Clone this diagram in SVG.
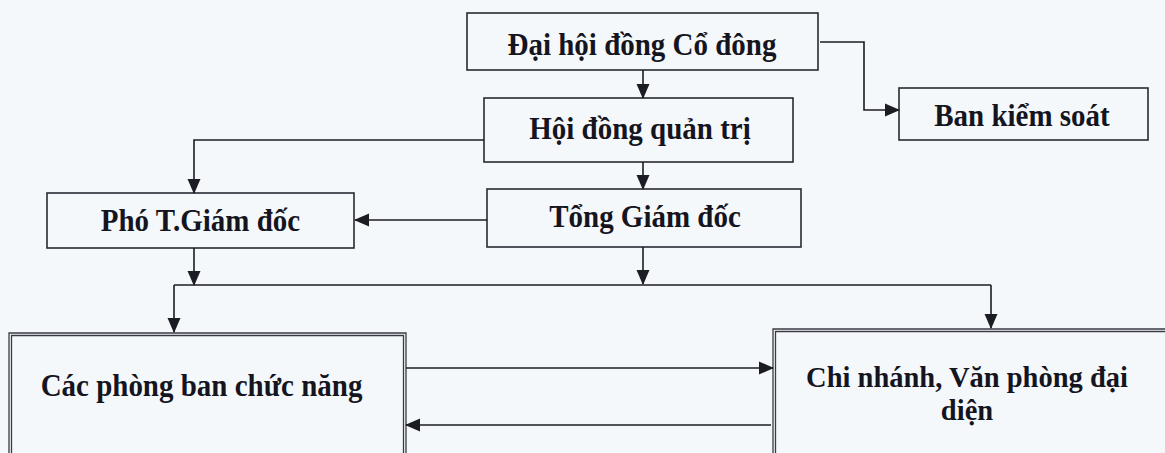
<svg xmlns="http://www.w3.org/2000/svg" width="1165" height="453" viewBox="0 0 1165 453">
  <defs>
    <marker id="arr" markerUnits="userSpaceOnUse" markerWidth="15" markerHeight="15" viewBox="0 0 15 15" refX="14" refY="7.5" orient="auto">
      <path d="M0,1 L15,7.5 L0,14 Z" fill="#1c1c24"/>
    </marker>
    <style>
      .box { fill: none; stroke: #2a2a32; stroke-width: 1.6; }
      .dbl { fill: none; stroke: #3a3a44; stroke-width: 1.3; }
      .lbl { font-family: "Liberation Serif", "Times New Roman", serif; font-weight: bold; font-size: 29px; fill: #15151f; text-anchor: middle; }
      .con { fill: none; stroke: #1c1c24; stroke-width: 1.6; }
    </style>
  </defs>
  <rect x="0" y="0" width="1165" height="453" fill="#f5f8fa"/>

  <g id="dhdcd">
    <rect class="box" x="467" y="13" width="351" height="57"/>
    <text class="lbl" transform="translate(642,55) scale(1,1.12)">Đại hội đồng Cổ đông</text>
  </g>
  <g id="bks">
    <rect class="box" x="899" y="88" width="249" height="52"/>
    <text class="lbl" transform="translate(1022,126) scale(1,1.12)">Ban kiểm soát</text>
  </g>
  <g id="hdqt">
    <rect class="box" x="484" y="98" width="309" height="64"/>
    <text class="lbl" transform="translate(640,139) scale(1,1.12)">Hội đồng quản trị</text>
  </g>
  <g id="ptgd">
    <rect class="box" x="47" y="193" width="307" height="55"/>
    <text class="lbl" transform="translate(200.5,231) scale(1,1.12)">Phó T.Giám đốc</text>
  </g>
  <g id="tgd">
    <rect class="box" x="487" y="189" width="314" height="58"/>
    <text class="lbl" transform="translate(645,227) scale(1,1.12)">Tổng Giám đốc</text>
  </g>
  <g id="cpb">
    <path class="dbl" d="M9,460 V333 H406 V460"/>
    <path class="dbl" d="M11.5,460 V335.5 H403.5 V460"/>
    <text class="lbl" transform="translate(201.5,396) scale(1,1.12)">Các phòng ban chức năng</text>
  </g>
  <g id="cn">
    <path class="dbl" d="M773,460 V329 H1170"/>
    <path class="dbl" d="M775.5,460 V331.5 H1170"/>
    <text class="lbl" style="font-size:28.5px" x="967" y="387"><tspan x="967" y="387">Chi nhánh, Văn phòng đại</tspan><tspan x="967" y="420">diện</tspan></text>
  </g>

  <g id="connectors">
    <path class="con" d="M643,70 V98" marker-end="url(#arr)"/>
    <path class="con" d="M820,42 H864 V110 H899" marker-end="url(#arr)"/>
    <path class="con" d="M484,140 H194 V193" marker-end="url(#arr)"/>
    <path class="con" d="M643,162 V189" marker-end="url(#arr)"/>
    <path class="con" d="M487,220 H355" marker-end="url(#arr)"/>
    <path class="con" d="M643,247 V284" marker-end="url(#arr)"/>
    <path class="con" d="M194,248 V285" marker-end="url(#arr)"/>
    <path class="con" d="M174,285 H991"/>
    <path class="con" d="M174,285 V332" marker-end="url(#arr)"/>
    <path class="con" d="M991,285 V328" marker-end="url(#arr)"/>
    <path class="con" d="M406,368 H773" marker-end="url(#arr)"/>
    <path class="con" d="M771,425 H406" marker-end="url(#arr)"/>
  </g>
</svg>
